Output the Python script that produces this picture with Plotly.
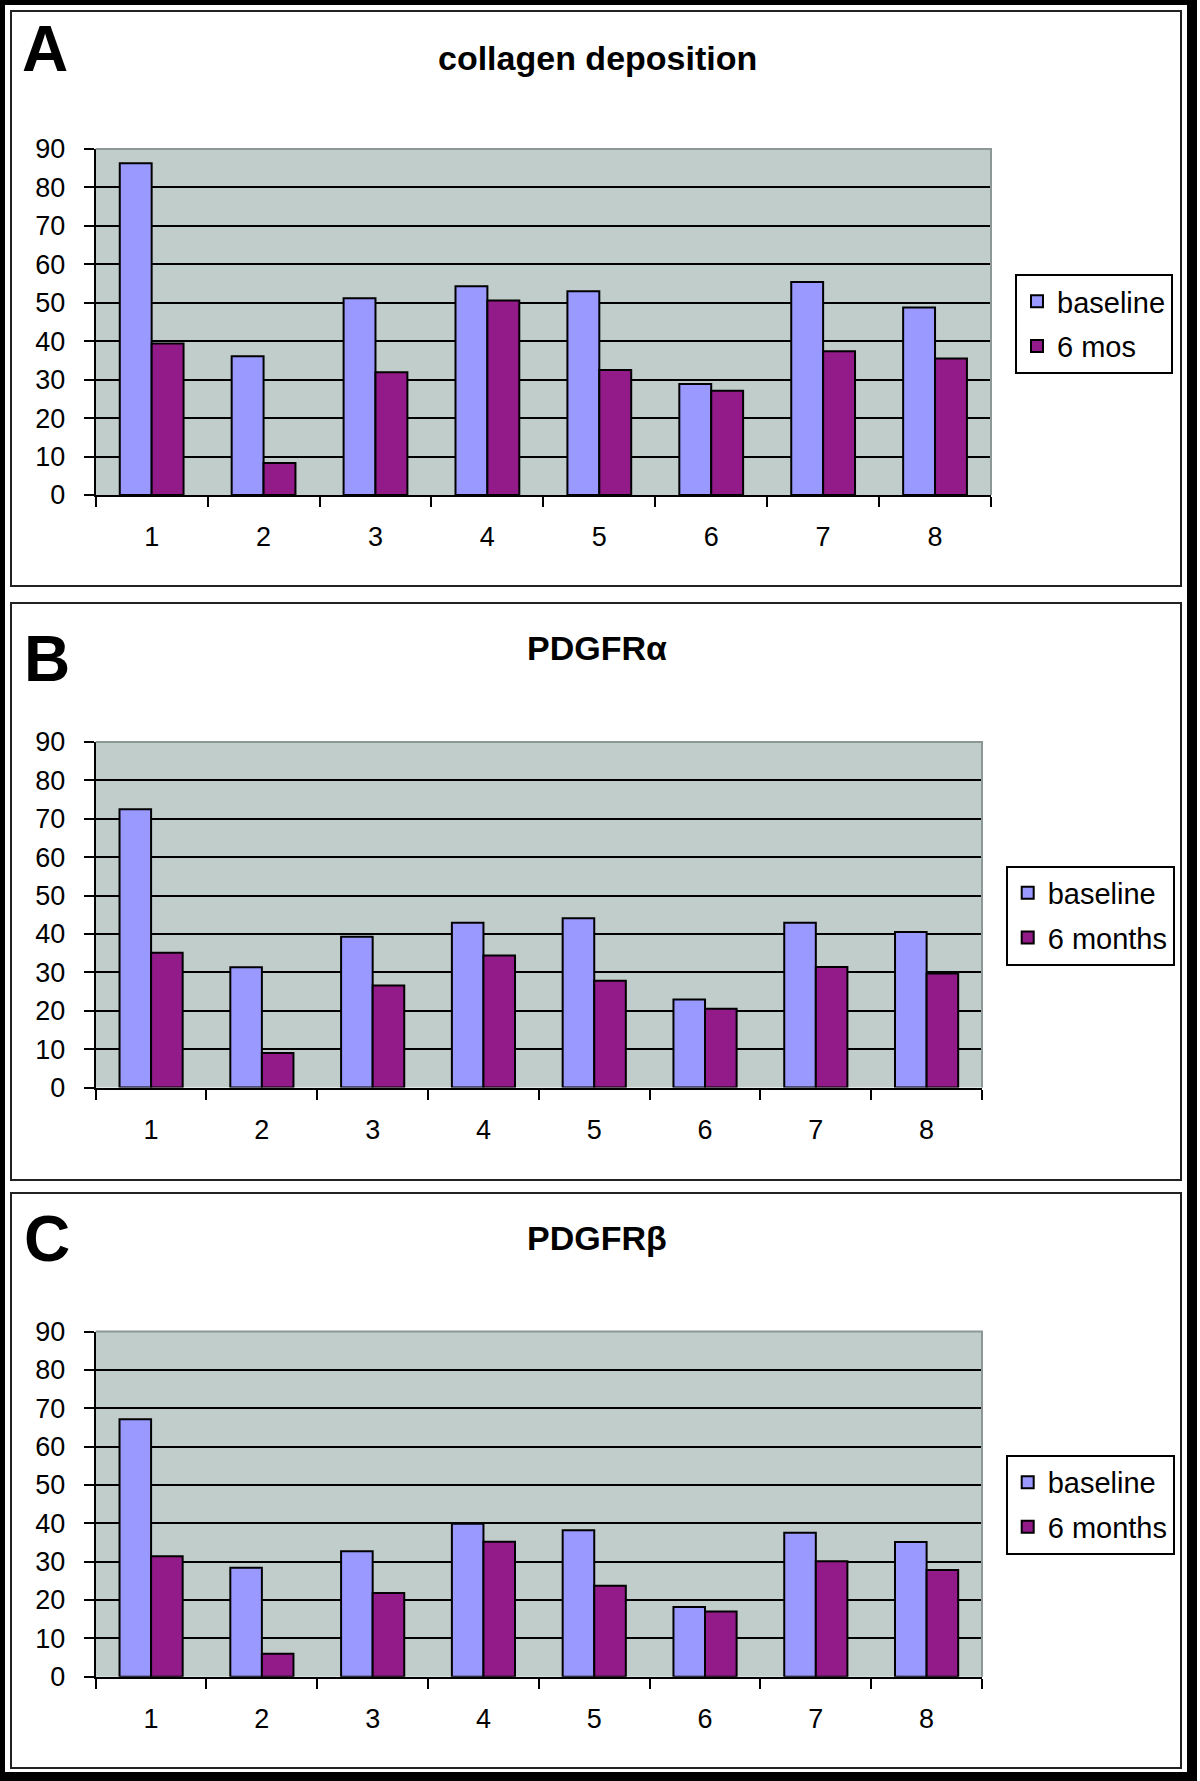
import plotly.graph_objects as go

# ---------------- data ----------------
categories = ["1", "2", "3", "4", "5", "6", "7", "8"]
y_ticks = [0, 10, 20, 30, 40, 50, 60, 70, 80, 90]

collagen_baseline = [86.3, 36.1, 51.2, 54.3, 53.0, 28.9, 55.4, 48.8]
collagen_6mos = [39.4, 8.3, 31.9, 50.6, 32.5, 27.1, 37.4, 35.5]

pdgfra_baseline = [72.5, 31.3, 39.3, 42.9, 44.1, 22.9, 42.9, 40.5]
pdgfra_6months = [35.1, 9.0, 26.6, 34.4, 27.8, 20.5, 31.4, 29.7]

pdgfrb_baseline = [67.1, 28.4, 32.7, 39.9, 38.2, 18.2, 37.5, 35.1]
pdgfrb_6months = [31.4, 6.0, 21.8, 35.2, 23.7, 17.0, 30.1, 27.8]

titles = ["collagen deposition", "PDGFRα", "PDGFRβ"]
letters = ["A", "B", "C"]
series_names = [["baseline", "6 mos"], ["baseline", "6 months"], ["baseline", "6 months"]]

# ---------------- layout helpers ----------------
W, H = 1200, 1781
FONT = "Liberation Sans, Arial, sans-serif"
C_BASE = "#9999FF"
C_6M = "#921A89"
BG = "#C1CDCB"


def fx(px):
    return px / W


def fy(py):
    return 1 - py / H


panels = [
    dict(base=collagen_baseline, later=collagen_6mos,
         plot=(95.7, 991, 149, 495), legend=(1015, 274),
         title_y=58, letter=(20, 49), box=(11, 11, 1181, 586)),
    dict(base=pdgfra_baseline, later=pdgfra_6months,
         plot=(95.7, 982, 742, 1087.5), legend=(1005.7, 865.5),
         title_y=648, letter=(22, 659), box=(11, 603, 1181, 1180)),
    dict(base=pdgfrb_baseline, later=pdgfrb_6months,
         plot=(95.7, 982, 1331.5, 1676.7), legend=(1005.7, 1454.8),
         title_y=1238, letter=(22, 1239), box=(11, 1193, 1181, 1768)),
]

fig = go.Figure()
layout = dict(
    width=W, height=H, autosize=False,
    margin=dict(l=0, r=0, t=0, b=0, pad=0),
    paper_bgcolor="white",
    plot_bgcolor=BG,
    barmode="group", bargap=0.43, bargroupgap=0,
    font=dict(family=FONT, color="black"),
    showlegend=True,
)
shapes = []
annotations = []

for i, p in enumerate(panels):
    n = "" if i == 0 else str(i + 1)
    xa, ya = "x" + n, "y" + n
    leg = "legend" + n
    names = series_names[i]
    for vals, name, col in [(p["base"], names[0], C_BASE), (p["later"], names[1], C_6M)]:
        fig.add_trace(go.Bar(
            x=categories, y=vals, name=name, xaxis=xa, yaxis=ya, legend=leg,
            legendgroup=f"{i}-{name}",
            marker=dict(color=col, line=dict(color="black", width=2)),
        ))
    l, r, t, b = p["plot"]
    layout["xaxis" + n] = dict(
        domain=[fx(l), fx(r)], anchor=ya, type="category",
        showline=True, linecolor="black", linewidth=2,
        ticks="outside", ticklen=10, tickwidth=2, tickcolor="black",
        tickson="boundaries", showgrid=False, ticklabelstandoff=17,
        tickfont=dict(family=FONT, size=27, color="black"), fixedrange=True,
        automargin=False,
    )
    layout["yaxis" + n] = dict(
        domain=[fy(b), fy(t)], anchor=xa, range=[0, 90],
        tickvals=y_ticks, showline=True, linecolor="black", linewidth=2,
        ticks="outside", ticklen=10, tickwidth=2, tickcolor="black",
        showgrid=True, gridcolor="black", gridwidth=2, zeroline=False,
        ticklabelstandoff=13,
        tickfont=dict(family=FONT, size=27, color="black"), fixedrange=True,
        automargin=False,
    )
    lx, ly = p["legend"]
    layout[leg] = dict(
        x=fx(lx), y=fy(ly), xanchor="left", yanchor="top",
        bgcolor="white", bordercolor="black", borderwidth=2,
        font=dict(family=FONT, size=29, color="black"),
        tracegroupgap=4, itemclick=False, itemdoubleclick=False,
    )
    # gray top & right border of plot area
    shapes.append(dict(type="path", xref=xa + " domain", yref=ya + " domain",
                       path="M 0 1 L 1 1 L 1 0", line=dict(color="#8C9896", width=2),
                       layer="above"))
    # panel box
    bx0, by0, bx1, by1 = p["box"]
    shapes.append(dict(type="rect", xref="paper", yref="paper",
                       x0=fx(bx0), x1=fx(bx1), y0=fy(by1), y1=fy(by0),
                       line=dict(color="#222222", width=2), layer="below"))
    # title
    annotations.append(dict(text="<b>" + titles[i] + "</b>", xref="paper", yref="paper",
                            x=fx(597), y=fy(p["title_y"]), xanchor="center", yanchor="middle",
                            showarrow=False, font=dict(family=FONT, size=34, color="black")))
    # panel letter
    ltx, lty = p["letter"]
    annotations.append(dict(text="<b>" + letters[i] + "</b>", xref="paper", yref="paper",
                            x=fx(ltx), y=fy(lty), xanchor="left", yanchor="middle",
                            showarrow=False, font=dict(family=FONT, size=64, color="black")))

# outer black frame
for x0, y0, x1, y1 in [(0, 0, 1197, 5), (0, 1772, 1197, 1781), (0, 0, 5, 1781), (1187, 0, 1197, 1781)]:
    shapes.append(dict(type="rect", xref="paper", yref="paper",
                       x0=fx(x0), x1=fx(x1), y0=fy(y1), y1=fy(y0),
                       fillcolor="black", line=dict(width=0), layer="above"))

layout["shapes"] = shapes
layout["annotations"] = annotations
fig.update_layout(**layout)

post = (
    "document.documentElement.style.margin='0';"
    "document.body.style.margin='0';"
    "document.body.style.padding='0';"
    "var gd=document.getElementsByClassName('plotly-graph-div')[0];"
    "gd.style.position='absolute';gd.style.left='0px';gd.style.top='0px';"
)
fig.write_html("out.html", config={"displayModeBar": False}, post_script=post)
